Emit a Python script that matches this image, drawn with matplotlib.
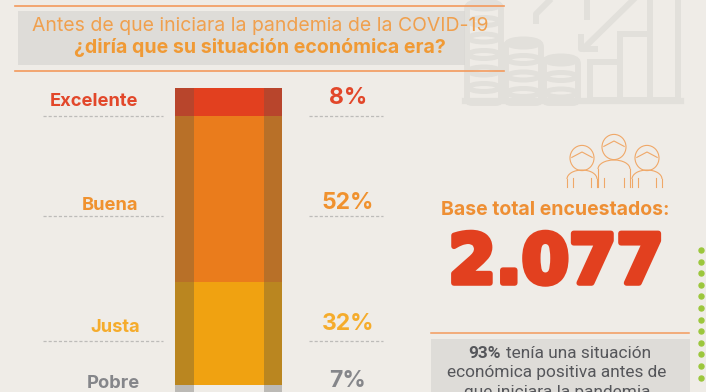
import matplotlib
matplotlib.use("Agg")
import matplotlib.pyplot as plt
import matplotlib.patheffects as pe
from matplotlib.patches import Rectangle, Ellipse, Arc, FancyBboxPatch

categories = ["Excelente", "Buena", "Justa", "Pobre"]
pct_labels = ["8%", "52%", "32%", "7%"]
bar_values = [8.75, 51.9, 32.2, 7.0]
bar_colors = ["#e2401f", "#ea7c1c", "#f0a211", "#efece7"]
side_colors = ["#b8452c", "#b87028", "#ba8620", "#bcbab6"]
label_colors = ["#e2472a", "#f0922f", "#f5ac2c", "#85868a"]
label_y = [101, 205, 327, 383]
label_x = [94, 110, 115, 113]
pct_y = [98, 203, 324, 381]
dash_y = [116, 216, 341]

BG = "#efece7"
PANEL = "#d9d7d3"
ORANGE = "#f39a5c"
ICON = "#e2e0db"

fig = plt.figure(figsize=(7.06, 3.92), dpi=100, facecolor=BG)
ax = fig.add_axes([0, 0, 1, 1])
ax.set_xlim(0, 706)
ax.set_ylim(392, 0)
ax.axis("off")

# --- watermark icon
def coin_stack(x0, x1, top, bottom=103):
    ax.add_patch(FancyBboxPatch((x0, top), x1 - x0, bottom - top, boxstyle="round,pad=0,rounding_size=5",
                                fc="none", ec=ICON, lw=4.2, zorder=1))
    y = top
    while y < bottom - 4:
        ax.add_patch(Ellipse(((x0 + x1) / 2, y + 1), x1 - x0 - 4, 8, fc="none", ec=ICON, lw=3.6, zorder=1))
        y += 16.5

coin_stack(467, 501, 4)
coin_stack(506, 541, 42)
coin_stack(544, 578, 59)
for x0, x1, top in [(590, 620, 62), (620, 650, 34), (650, 678, -5)]:
    ax.add_patch(Rectangle((x0, top), x1 - x0, 100 - top, fc="none", ec=ICON, lw=4.3, zorder=1))
ax.plot([465, 681], [101, 101], color=ICON, lw=4.5, zorder=1)
ax.plot([633, 584], [0, 48], color=ICON, lw=4.3, zorder=1)
ax.plot([581, 581, 595], [37, 49, 49], color=ICON, lw=4.3, zorder=1)
ax.plot([536, 536, 549], [21, 14, 1], color=ICON, lw=4.3, zorder=1)
ax.plot([587, 587], [0, 17], color=ICON, lw=4.3, zorder=1)

# --- header
ax.add_patch(Rectangle((18, 11), 447, 54, fc=PANEL, ec="none", alpha=0.75, zorder=2))
ax.plot([15, 504], [6, 6], color=ORANGE, lw=1.2, zorder=3)
ax.plot([15, 504], [71, 71], color=ORANGE, lw=1.2, zorder=3)
ax.text(260, 26, "Antes de que iniciara la pandemia de la COVID-19", ha="center", va="center",
        family="Inter", fontsize=14, color="#f0a04e", zorder=4)
ax.text(260, 47, "¿diría que su situación económica era?", ha="center", va="center",
        family="Inter", fontsize=14.1, fontweight="bold", color="#f09a35", zorder=4)

# --- stacked bar, drawn in its own axes
bar_ax = fig.add_axes([175 / 706, 0, 107 / 706, 304 / 392], facecolor="none")
bar_ax.set_xlim(0, 107)
bar_ax.set_ylim(95, 0)
bar_ax.axis("off")
bottom = 0
for value, color, side in zip(bar_values, bar_colors, side_colors):
    bar_ax.bar(53.5, value, width=107, bottom=bottom, color=side, linewidth=0)
    bar_ax.bar(53.5, value, width=70, bottom=bottom, color=color, linewidth=0)
    bottom += value

# --- labels
for name, pct, c, lx, ly, py in zip(categories, pct_labels, label_colors, label_x, label_y, pct_y):
    ax.text(lx, ly, name, ha="center", va="center", family="Inter", fontweight="bold",
            fontsize=13.2, color=c, zorder=4)
    ax.text(348, py, pct, ha="center", va="center", family="Inter", fontweight="bold",
            fontsize=16.5, color=c, zorder=4)
for y in dash_y:
    ax.plot([43, 163], [y, y], color="#bdbcb9", lw=0.9, ls=(0, (2.5, 1.6)), zorder=3)
    ax.plot([309, 383], [y, y], color="#bdbcb9", lw=0.9, ls=(0, (2.5, 1.6)), zorder=3)

# --- people icon
PEOPLE = "#efa868"
def person(cx, head_y, hr, sw, top, base=187):
    ax.add_patch(Ellipse((cx, head_y), 2 * hr, 2.1 * hr, fc="none", ec=PEOPLE, lw=0.8))
    mid = top + 9
    ax.add_patch(Arc((cx, mid), 2 * sw, 18, theta1=180, theta2=360, fc="none", ec=PEOPLE, lw=0.8))
    for x in (cx - sw, cx + sw):
        ax.plot([x, x], [mid, base], color=PEOPLE, lw=0.8)
    for x in (cx - sw * 0.6, cx + sw * 0.6):
        ax.plot([x, x], [base - 9, base], color=PEOPLE, lw=0.8)
    ax.plot([cx - hr * 0.85, cx, cx + hr * 0.85], [head_y - hr * 0.05, head_y - hr * 0.5, head_y - hr * 0.05],
            color=PEOPLE, lw=0.8)
person(582, 158, 12, 15, 170)
person(614, 147, 12, 16, 160)
person(647, 158, 12, 15, 170)

# --- total
ax.text(555, 210, "Base total encuestados:", ha="center", va="center", family="Inter",
        fontweight="bold", fontsize=14, color="#ee8f34", zorder=4)
ax.text(556, 264, "2.077", ha="center", va="center", family="DejaVu Sans", fontweight="bold",
        fontsize=49, color="#e2401f", zorder=4,
        path_effects=[pe.withStroke(linewidth=4, foreground="#e2401f")])

# --- note
ax.plot([431, 689], [333, 333], color=ORANGE, lw=1.1, zorder=3)
ax.add_patch(Rectangle((431, 339), 259, 53, fc=PANEL, ec="none", alpha=0.75, zorder=2))
ax.text(501, 353, "93%", ha="right", va="center", family="Roboto", fontweight="bold",
        fontsize=12.4, color="#55565a", zorder=4)
ax.text(506, 353, "tenía una situación", ha="left", va="center", family="Roboto",
        fontsize=12.4, color="#55565a", zorder=4)
ax.text(557, 373, "económica positiva antes de", ha="center", va="center", family="Roboto",
        fontsize=12.4, color="#55565a", zorder=4)
ax.text(557, 393, "que iniciara la pandemia", ha="center", va="center", family="Roboto",
        fontsize=12.4, color="#55565a", zorder=4, clip_on=True)

# --- green dots
ax.plot([701] * 12, [250 + 11.6 * i for i in range(12)], ls="none", marker="o", ms=3.6,
        color="#9cc73c", zorder=4)

fig.savefig("out.png", dpi=100, facecolor=BG)
